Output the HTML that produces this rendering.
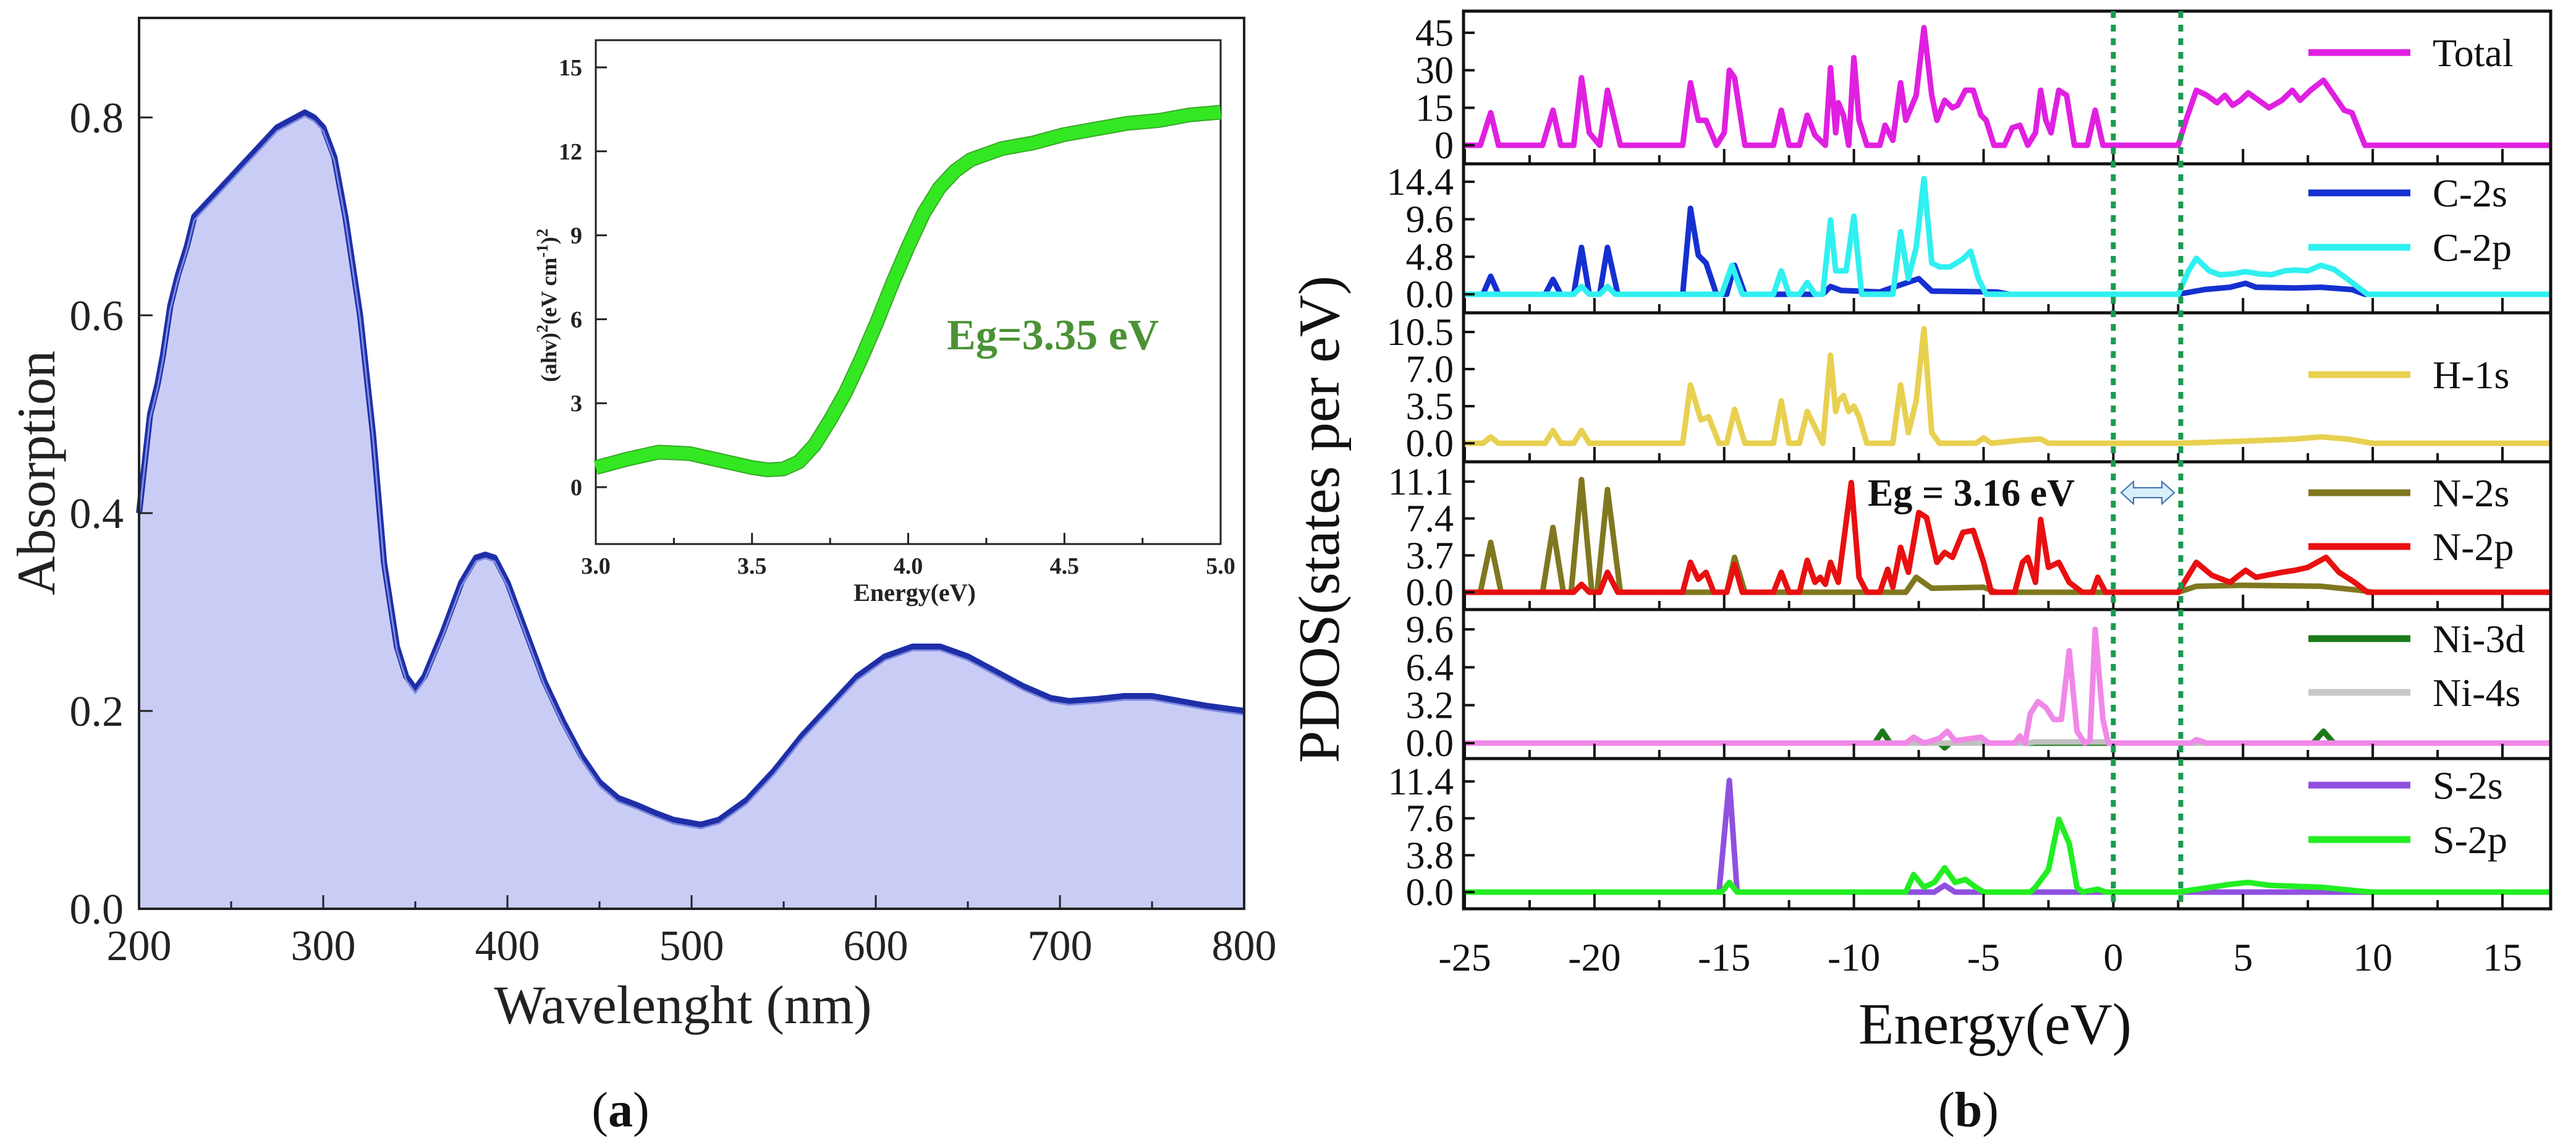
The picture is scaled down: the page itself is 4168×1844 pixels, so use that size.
<!DOCTYPE html>
<html><head><meta charset="utf-8"><style>
html,body{margin:0;padding:0;background:#fff}
svg{display:block}
svg text{font-family:"Liberation Serif",serif}
</style></head><body>
<svg id="fig" width="4168" height="1844" viewBox="0 0 4168 1844" xmlns="http://www.w3.org/2000/svg" font-family="Liberation Serif, serif">
<rect width="4168" height="1844" fill="#fff"/>
<g id="a"></g>
<g id="b"></g>
</svg>
<script>
// ---------- data (a) ----------
const absWl = [200,203,206,210,213,217,221,226,230,235,245,255,265,275,285,290,295,300,306,312,320,327,333,340,345,350,355,365,375,383,388,393,400,410,420,430,440,450,460,470,480,490,505,515,530,545,560,575,590,605,620,635,650,665,680,695,705,720,735,750,765,780,800];
const absVal = [0.40,0.45,0.50,0.53,0.56,0.61,0.64,0.67,0.70,0.71,0.73,0.75,0.77,0.79,0.80,0.805,0.80,0.79,0.76,0.70,0.60,0.48,0.35,0.265,0.235,0.222,0.235,0.28,0.33,0.355,0.358,0.355,0.33,0.28,0.23,0.19,0.155,0.128,0.112,0.105,0.097,0.09,0.085,0.09,0.11,0.14,0.175,0.205,0.235,0.255,0.265,0.265,0.255,0.24,0.225,0.213,0.21,0.212,0.215,0.215,0.21,0.205,0.20];
const absXTicks = [200,300,400,500,600,700,800];
const absYTicks = [0.0,0.2,0.4,0.6,0.8];
const insetE = [3.0,3.1,3.2,3.3,3.4,3.5,3.55,3.6,3.65,3.7,3.75,3.8,3.85,3.9,3.95,4.0,4.05,4.1,4.15,4.2,4.3,4.4,4.5,4.6,4.7,4.8,4.9,5.0];
const insetV = [0.7,1.0,1.25,1.2,0.95,0.7,0.62,0.65,0.9,1.5,2.4,3.4,4.6,5.9,7.3,8.6,9.8,10.7,11.3,11.7,12.1,12.3,12.6,12.8,13.0,13.1,13.3,13.4];
const insetXTicks = [3.0,3.5,4.0,4.5,5.0];
const insetYTicks = [0,3,6,9,12,15];
// ---------- data (b) ----------
const totalPts = [[-25,0],[-24.4,0],[-24,13],[-23.7,0],[-22,0],[-21.6,14],[-21.3,0],[-20.8,0],[-20.5,27],[-20.2,5],[-19.8,0],[-19.5,22],[-19,0],[-16.6,0],[-16.3,25],[-16,10],[-15.7,10],[-15.3,0],[-15,5],[-14.8,30],[-14.6,27],[-14.2,0],[-13.1,0],[-12.8,14],[-12.5,0],[-12.1,0],[-11.8,12],[-11.5,4],[-11.1,0],[-10.9,31],[-10.7,5],[-10.6,17],[-10.4,12],[-10.2,0],[-10,35],[-9.8,10],[-9.5,0],[-9,0],[-8.8,8],[-8.5,2],[-8.2,25],[-8,10],[-7.6,20],[-7.3,47],[-7,20],[-6.8,10],[-6.5,18],[-6.2,15],[-6,16],[-5.7,22],[-5.4,22],[-5.1,12],[-4.9,10],[-4.6,0],[-4.2,0],[-3.9,7],[-3.6,8],[-3.3,0],[-3,5],[-2.8,22],[-2.6,10],[-2.4,5],[-2.1,22],[-1.8,20],[-1.5,0],[-1,0],[-0.7,14],[-0.4,0],[2.5,0],[2.8,10],[3.2,22],[3.6,20],[4,17],[4.3,20],[4.6,16],[4.9,18],[5.2,21],[5.6,18],[6,15],[6.5,18],[6.9,22],[7.2,18],[7.6,22],[8.1,26],[8.5,20],[8.9,14],[9.2,13],[9.7,0],[16.9,0]];
const c2sPts = [[-25,0],[-24.3,0],[-24,2.3],[-23.7,0],[-21.9,0],[-21.6,1.9],[-21.3,0],[-20.8,0],[-20.5,6],[-20.2,0],[-19.8,0],[-19.5,6],[-19.1,0],[-16.6,0],[-16.3,11],[-16,5],[-15.7,4],[-15.3,0],[-14.9,0],[-14.6,3.7],[-14.2,0],[-11.2,0],[-10.9,1],[-10.5,0.5],[-9,0.3],[-7.5,2],[-7,0.4],[-4.5,0.3],[-4,0],[2.5,0],[3.5,0.6],[4.5,0.9],[5.1,1.4],[5.5,0.9],[7,0.8],[8,0.9],[9.2,0.6],[9.7,0],[16.9,0]];
const c2pPts = [[-25,0],[-20.8,0],[-20.5,1],[-20.2,0],[-19.8,0],[-19.5,1],[-19.2,0],[-15.1,0],[-14.7,3.7],[-14.3,0],[-13.1,0],[-12.8,3],[-12.5,0],[-12.1,0],[-11.8,1.5],[-11.5,0],[-11.2,0],[-10.9,9.5],[-10.7,3],[-10.5,3],[-10.3,3],[-10,10],[-9.7,0],[-8.5,0],[-8.2,8],[-7.9,2],[-7.6,6],[-7.3,14.8],[-7,4],[-6.7,3.5],[-6.3,3.5],[-5.8,4.5],[-5.5,5.5],[-5.2,2],[-4.9,0],[2.5,0],[2.9,3],[3.2,4.6],[3.7,3],[4.1,2.5],[4.6,2.6],[5.1,2.9],[5.6,2.6],[6.1,2.5],[6.6,3],[7,3.1],[7.5,3],[8,3.7],[8.5,3.2],[9,2],[9.4,1],[9.8,0],[16.9,0]];
const h1sPts = [[-25,0],[-24.3,0],[-24,0.6],[-23.7,0],[-21.9,0],[-21.6,1.2],[-21.3,0],[-20.8,0],[-20.5,1.2],[-20.2,0],[-16.6,0],[-16.3,5.5],[-15.9,2.2],[-15.6,2.5],[-15.2,0],[-14.9,0],[-14.6,3.2],[-14.2,0],[-13.1,0],[-12.8,4],[-12.5,0],[-12.1,0],[-11.8,3],[-11.5,1.5],[-11.2,0],[-10.9,8.3],[-10.7,3],[-10.6,4],[-10.4,4.5],[-10.2,3],[-10,3.5],[-9.8,2.5],[-9.5,0],[-8.5,0],[-8.2,5.5],[-7.9,1],[-7.6,4],[-7.3,10.8],[-7,1],[-6.7,0],[-5.3,0],[-5,0.5],[-4.7,0],[-3.5,0.3],[-2.8,0.4],[-2.5,0],[2.5,0],[5,0.2],[7,0.4],[8,0.6],[9,0.4],[10,0],[16.9,0]];
const n2sPts = [[-25,0],[-24.4,0],[-24,5],[-23.6,0],[-22,0],[-21.6,6.5],[-21.2,0],[-20.9,0],[-20.5,11.3],[-20.1,0],[-19.9,0],[-19.5,10.3],[-19,0],[-14.9,0],[-14.6,3.5],[-14.2,0],[-8,0],[-7.6,1.5],[-7,0.4],[-5,0.5],[-4.5,0],[2.5,0],[3.2,0.6],[5,0.7],[8,0.6],[9.5,0.2],[10,0],[16.9,0]];
const n2pPts = [[-25,0],[-20.8,0],[-20.5,0.8],[-20.2,0],[-19.8,0],[-19.5,2],[-19.1,0],[-16.6,0],[-16.3,3],[-16,1.3],[-15.7,2],[-15.4,0],[-14.9,0],[-14.6,2.8],[-14.3,0],[-13.1,0],[-12.8,2],[-12.5,0],[-12.1,0],[-11.8,3.2],[-11.5,1],[-11.3,1.5],[-11.1,0.8],[-10.9,3],[-10.6,1],[-10.1,11],[-9.8,1.5],[-9.5,0],[-9,0],[-8.7,2.3],[-8.5,0.5],[-8.2,4.5],[-7.9,2],[-7.5,8],[-7.2,7.5],[-6.8,3],[-6.5,4],[-6.2,3.5],[-5.8,6],[-5.4,6.2],[-5,3],[-4.7,0],[-3.8,0],[-3.5,3],[-3.3,3.5],[-3,1],[-2.8,7.3],[-2.5,2.5],[-2.1,3],[-1.7,1],[-1.2,0],[-0.8,0],[-0.6,1.5],[-0.3,0],[2.5,0],[3.2,3],[3.8,1.7],[4.5,1],[5.1,2.2],[5.5,1.5],[6.5,2],[7,2.2],[7.5,2.5],[8.2,3.5],[8.7,2],[9.3,1],[9.8,0],[16.9,0]];
const ni3dPts = [[-25,0],[-9.2,0],[-8.9,1],[-8.6,0],[-6.7,0],[-6.5,-0.4],[-6.3,0],[7.7,0],[8.1,1],[8.5,0],[16.9,0]];
const ni4sPts = [[-25,0],[-3.4,0],[-3,0.1],[-0.2,0.1],[0,0],[16.9,0]];
const niPinkPts = [[-25,0],[-8,0],[-7.7,0.5],[-7.3,0],[-6.7,0.4],[-6.4,1],[-6.1,0.2],[-5.1,0.5],[-4.8,0],[-3.8,0],[-3.6,0.6],[-3.4,0],[-3.2,2.5],[-2.9,3.5],[-2.6,3],[-2.3,2],[-2,2],[-1.7,7.8],[-1.4,1],[-1.1,0],[-0.9,0.2],[-0.7,9.6],[-0.4,2],[-0.2,0],[3,0],[3.2,0.3],[3.6,0],[16.9,0]];
const s2sPts = [[-25,0],[-15.2,0],[-14.8,11.5],[-14.5,0],[-6.9,0],[-6.5,0.7],[-6.1,0],[16.9,0]];
const s2pPts = [[-25,0],[-15.1,0],[-14.8,1],[-14.5,0],[-8,0],[-7.7,1.8],[-7.3,0.5],[-6.9,1],[-6.5,2.5],[-6.1,1],[-5.7,1.3],[-5.3,0.5],[-5,0],[-3.2,0],[-3,0.5],[-2.5,2.3],[-2.1,7.5],[-1.7,5],[-1.4,0.5],[-1.2,0],[-0.6,0.3],[-0.3,0],[2.5,0],[3.5,0.4],[4.5,0.8],[5.2,1],[6,0.7],[7,0.6],[8,0.5],[9.5,0.1],[10,0],[16.9,0]];
const pdosXTicks = [-25,-20,-15,-10,-5,0,5,10,15];
const totalTicks = [0,15,30,45];
const c2Ticks = [0,4.8,9.6,14.4];
const h1Ticks = [0,3.5,7.0,10.5];
const n2Ticks = [0,3.7,7.4,11.1];
const niTicks = [0,3.2,6.4,9.6];
const s2Ticks = [0,3.8,7.6,11.4];
const gapEdges = [0,2.6];

const NS='http://www.w3.org/2000/svg';
function mk(parent,tag,attrs,txt){const e=document.createElementNS(NS,tag);for(const k in attrs)e.setAttribute(k,attrs[k]);if(tag==='text')e.setAttribute('font-family','Liberation Serif, serif');if(txt!==undefined)e.textContent=txt;parent.appendChild(e);return e;}

// ---------- panel (a) ----------
const A=document.getElementById('a');
const ax0=225,ax1=2013,ay0=1470,ayTop=29;
const axX=w=>ax0+(w-200)/600*(ax1-ax0);
const axY=v=>ay0-v*1600;
let fillD='M'+axX(absWl[0])+','+ay0;
absWl.forEach((w,i)=>{fillD+=' L'+axX(w)+','+axY(absVal[i]);});
fillD+=' L'+axX(absWl[absWl.length-1])+','+ay0+' Z';
let f=mk(A,'path',{d:fillD,fill:'#c9cdf6'});


let lineD=absWl.map((w,i)=>(i?'L':'M')+axX(w)+','+axY(absVal[i])).join(' ');
let l=mk(A,'path',{d:lineD,fill:'none',stroke:'#1f2fa8','stroke-width':10,'stroke-linejoin':'round'});


mk(A,'path',{d:lineD,fill:'none',stroke:'#7f8be0','stroke-width':3,transform:'translate(0,6)'});
let fr=mk(A,'rect',{x:ax0,y:ayTop,width:ax1-ax0,height:ay0-ayTop,fill:'none',stroke:'#222','stroke-width':4});


absXTicks.forEach(t=>{const x=axX(t);mk(A,'line',{x1:x,y1:ay0,x2:x,y2:ay0-22,stroke:'#222','stroke-width':3});
 const tx=mk(A,'text',{x:x,y:1553,'font-size':70,'text-anchor':'middle',fill:'#222'},String(t));
 
 });
absXTicks.slice(0,-1).forEach(t=>{const x=axX(t+50);mk(A,'line',{x1:x,y1:ay0,x2:x,y2:ay0-12,stroke:'#222','stroke-width':3});});
absYTicks.forEach(t=>{const y=axY(t);mk(A,'line',{x1:ax0,y1:y,x2:ax0+22,y2:y,stroke:'#222','stroke-width':3});
 const tx=mk(A,'text',{x:200,y:y+24,'font-size':70,'text-anchor':'end',fill:'#222'},t.toFixed(1));
 
 });
let xt=mk(A,'text',{x:1105,y:1655,'font-size':88,'text-anchor':'middle',fill:'#222'},'Wavelenght (nm)');


let yt=mk(A,'text',{x:0,y:0,'font-size':88,'text-anchor':'middle',fill:'#222',transform:'translate(88,765) rotate(-90)'},'Absorption');


let pa=mk(A,'text',{x:1004,y:1822,'font-size':80,'text-anchor':'middle',fill:'#111'},'(');
pa.innerHTML='(<tspan font-weight="bold">a</tspan>)';


// inset
const ix0=964,ix1=1975,iy0=880,iyT=65;
const iX=e=>ix0+(e-3)/2*(ix1-ix0);
const iY=v=>788-v*(679/15);
mk(A,'rect',{x:ix0,y:iyT,width:ix1-ix0,height:iy0-iyT,fill:'#fff',stroke:'#222','stroke-width':3});
let iD=insetE.map((e,i)=>(i?'L':'M')+iX(e)+','+iY(insetV[i])).join(' ');
let il=mk(A,'path',{d:iD,fill:'none',stroke:'#3aa82a','stroke-width':24,'stroke-linejoin':'round'});


mk(A,'path',{d:iD,fill:'none',stroke:'#33e822','stroke-width':20,'stroke-linejoin':'round'});
insetXTicks.forEach(t=>{const x=iX(t);mk(A,'line',{x1:x,y1:iy0,x2:x,y2:iy0-18,stroke:'#222','stroke-width':3});
 const tx=mk(A,'text',{x:x,y:928,'font-size':38,'font-weight':'bold','text-anchor':'middle',fill:'#222'},t.toFixed(1));
 
 });
insetXTicks.slice(0,-1).forEach(t=>{const x=iX(t+0.25);mk(A,'line',{x1:x,y1:iy0,x2:x,y2:iy0-10,stroke:'#222','stroke-width':3});});
insetYTicks.forEach(t=>{const y=iY(t);mk(A,'line',{x1:ix0,y1:y,x2:ix0+18,y2:y,stroke:'#222','stroke-width':3});
 const tx=mk(A,'text',{x:942,y:y+13,'font-size':38,'font-weight':'bold','text-anchor':'end',fill:'#222'},String(t));
 
 });
let ixt=mk(A,'text',{x:1480,y:972,'font-size':40,'font-weight':'bold','text-anchor':'middle',fill:'#222'},'Energy(eV)');


let iyt=mk(A,'text',{x:0,y:0,'font-size':36,'font-weight':'bold','text-anchor':'middle',fill:'#222',transform:'translate(900,494) rotate(-90)'},'');
iyt.innerHTML='(ahv)<tspan dy="-14" font-size="26">2</tspan><tspan dy="14">(eV cm</tspan><tspan dy="-14" font-size="26">-1</tspan><tspan dy="14">)</tspan><tspan dy="-14" font-size="26">2</tspan>';


let eg=mk(A,'text',{x:1532,y:565,'font-size':70,'font-weight':'bold',fill:'#4b9236'},'Eg=3.35 eV');



// ---------- panel (b) ----------
const B=document.getElementById('b');
const bx0=2368,bx1=4127;
const bX=e=>2370+(e+25)*(4049-2370)/40;
const panels=[
 {top:18,bot:265,zero:235,tickTop:53,ticks:totalTicks,dec:0,name:'total',series:[[totalPts,'#e020e0','total-line']],legend:[['Total','#e020e0',85]]},
 {top:265,bot:506,zero:476,tickTop:294,ticks:c2Ticks,dec:1,name:'carbon',series:[[c2sPts,'#1530d0','c-2s-line'],[c2pPts,'#30f0f0','c-2p-line']],legend:[['C-2s','#1530d0',312],['C-2p','#30f0f0',400]]},
 {top:506,bot:747,zero:717,tickTop:537,ticks:h1Ticks,dec:1,name:'hydrogen',series:[[h1sPts,'#e8d050','h-1s-line']],legend:[['H-1s','#e8d050',606]]},
 {top:747,bot:986,zero:958,tickTop:779,ticks:n2Ticks,dec:1,name:'nitrogen',series:[[n2sPts,'#807820','n-2s-line'],[n2pPts,'#e81010','n-2p-line']],legend:[['N-2s','#807820',797],['N-2p','#e81010',884]]},
 {top:986,bot:1227,zero:1202,tickTop:1018,ticks:niTicks,dec:1,name:'nickel',series:[[ni3dPts,'#1a7a1a','ni-3d-line'],[ni4sPts,'#c0c0c0','ni-4s-line'],[niPinkPts,'#f088e8','ni-pdos-line']],legend:[['Ni-3d','#1a7a1a',1033],['Ni-4s','#c8c8c8',1120]]},
 {top:1227,bot:1470,zero:1443,tickTop:1264,ticks:s2Ticks,dec:1,name:'sulfur',series:[[s2sPts,'#9050e0','s-2s-line'],[s2pPts,'#22ee22','s-2p-line']],legend:[['S-2s','#9050e0',1270],['S-2p','#22ee22',1358]]}
];
panels.forEach(p=>{
 const maxT=p.ticks[p.ticks.length-1];
 const Y=v=>p.zero-v*(p.zero-p.tickTop)/maxT;
 const g=mk(B,'g',{});
 
 
 p.series.forEach(s=>{
  const d=s[0].map((pt,i)=>(i?'L':'M')+bX(pt[0]).toFixed(1)+','+Y(pt[1]).toFixed(1)).join(' ');
  const pl=mk(g,'path',{d:d,fill:'none',stroke:s[1],'stroke-width':9,'stroke-linejoin':'round'});
  
  
 });
 p.ticks.forEach(t=>{const y=Y(t);mk(g,'line',{x1:bx0,y1:y,x2:bx0+18,y2:y,stroke:'#111','stroke-width':4});
  const tx=mk(g,'text',{x:2352,y:y+21,'font-size':62,'text-anchor':'end',fill:'#111'},t.toFixed(p.dec));
  
  });
 for(let e=-25;e<=15;e+=2.5){const x=bX(e);const big=(e%5===0);mk(g,'line',{x1:x,y1:p.bot,x2:x,y2:p.bot-(big?24:14),stroke:'#111','stroke-width':4});}
 p.legend.forEach(lg=>{
  mk(g,'line',{x1:3735,y1:lg[2],x2:3900,y2:lg[2],stroke:lg[1],'stroke-width':11});
  const tx=mk(g,'text',{x:3936,y:lg[2]+22,'font-size':64,fill:'#111'},lg[0]);
  
  
 });
 mk(g,'rect',{x:bx0,y:p.top,width:bx1-bx0,height:p.bot-p.top,fill:'none',stroke:'#111','stroke-width':5});
});
gapEdges.forEach(e=>{const x=bX(e);const gl=mk(B,'line',{x1:x,y1:18,x2:x,y2:1470,stroke:'#1a9a50','stroke-width':8,'stroke-dasharray':'11 11'});
 
 });
pdosXTicks.forEach(t=>{const tx=mk(B,'text',{x:bX(t),y:1570,'font-size':64,'text-anchor':'middle',fill:'#111'},String(t));
 
 });
let bxt=mk(B,'text',{x:3228,y:1688,'font-size':94,'text-anchor':'middle',fill:'#111'},'Energy(eV)');


let byt=mk(B,'text',{x:0,y:0,'font-size':94,'text-anchor':'middle',fill:'#111',transform:'translate(2166,840) rotate(-90)'},'PDOS(states per eV)');


let eg2=mk(B,'text',{x:3022,y:818,'font-size':62,'font-weight':'bold',fill:'#111'},'Eg = 3.16 eV');


let arr=mk(B,'path',{d:'M3432,797 L3452,779 L3452,789 L3498,789 L3498,779 L3518,797 L3498,815 L3498,805 L3452,805 L3452,815 Z',fill:'#d8eefa',stroke:'#3a6fb0','stroke-width':2});


let pb=mk(B,'text',{x:3185,y:1822,'font-size':80,'text-anchor':'middle',fill:'#111'},'');
pb.innerHTML='(<tspan font-weight="bold">b</tspan>)';


</script>
</body></html>
